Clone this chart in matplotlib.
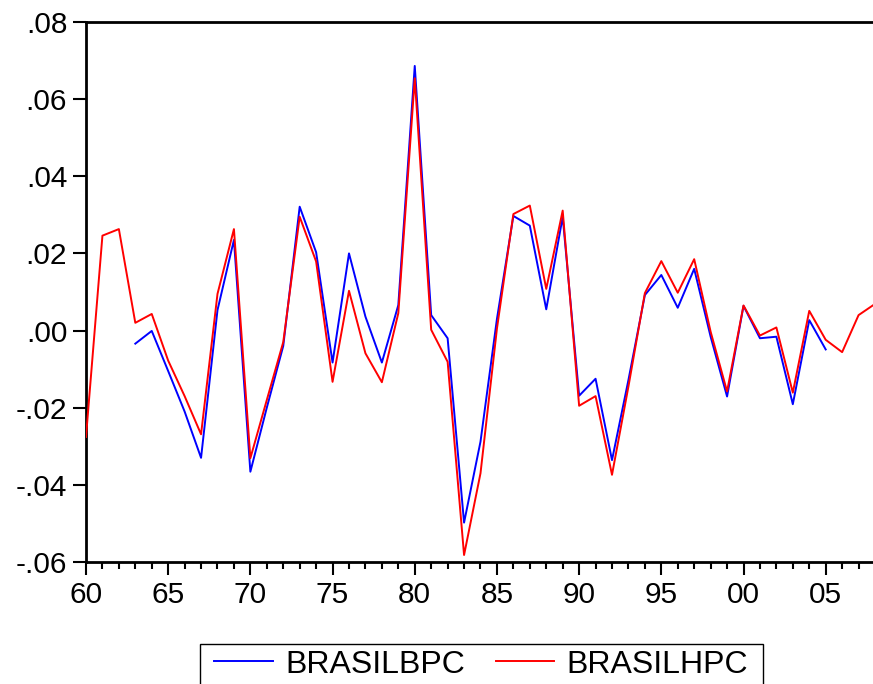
import matplotlib
matplotlib.use("Agg")
import matplotlib.pyplot as plt
from matplotlib.patches import Rectangle
from matplotlib.ticker import MultipleLocator, FuncFormatter

plt.rcParams["font.family"] = ["Liberation Sans", "DejaVu Sans"]

# yearly series, 1960-2008 (HPC) and 1963-2005 (BPC)
years_hpc = list(range(1960, 2009))
brasil_hpc = [
    -0.0276, 0.0246, 0.0263, 0.0020, 0.0043, -0.0078, -0.0170, -0.0269, 0.0095, 0.0263,
    -0.0331, -0.0180, -0.0030, 0.0295, 0.0179, -0.0133, 0.0103, -0.0059, -0.0134, 0.0045,
    0.0654, 0.0002, -0.0081, -0.0582, -0.0370, 0.0005, 0.0302, 0.0324, 0.0108, 0.0311,
    -0.0195, -0.0170, -0.0374, -0.0145, 0.0097, 0.0180, 0.0098, 0.0185, -0.0003, -0.0158,
    0.0065, -0.0013, 0.0008, -0.0161, 0.0051, -0.0024, -0.0056, 0.0040, 0.0069,
]

years_bpc = list(range(1963, 2006))
brasil_bpc = [
    -0.0034, -0.0001, -0.0105, -0.0210, -0.0330, 0.0053, 0.0235,
    -0.0366, -0.0200, -0.0040, 0.0321, 0.0203, -0.0083, 0.0200, 0.0036, -0.0083, 0.0066,
    0.0686, 0.0040, -0.0020, -0.0498, -0.0288, 0.0030, 0.0297, 0.0272, 0.0055, 0.0295,
    -0.0169, -0.0125, -0.0336, -0.0128, 0.0092, 0.0144, 0.0059, 0.0160, -0.0016, -0.0171,
    0.0064, -0.0020, -0.0016, -0.0191, 0.0027, -0.0049,
]

fig = plt.figure(figsize=(8.73, 6.84), dpi=100)
ax = fig.add_axes([0.0985, 0.1784, 0.9038, 0.7895])

# lines sit above the spines so the first point is not hidden by the left axis
ax.plot(years_bpc, brasil_bpc, color="#0000ff", lw=1.4, label="BRASILBPC", zorder=3)
ax.plot(years_hpc, brasil_hpc, color="#ff0000", lw=1.4, label="BRASILHPC", zorder=3)

ax.set_xlim(1960, 2008)
ax.set_ylim(-0.06, 0.08)

ax.xaxis.set_major_locator(MultipleLocator(5))
ax.xaxis.set_minor_locator(MultipleLocator(1))
ax.yaxis.set_major_locator(MultipleLocator(0.02))
ax.xaxis.set_major_formatter(FuncFormatter(lambda v, p: f"{int(round(v)) % 100:02d}"))


def fmt_y(v, p):
    s = f"{v:.2f}"
    return s.replace("0.", ".", 1)


ax.yaxis.set_major_formatter(FuncFormatter(fmt_y))

ax.tick_params(axis="x", which="major", length=9, width=1.5, labelsize=21.5, pad=5)
ax.tick_params(axis="x", which="minor", length=5, width=1.5)
ax.tick_params(axis="y", which="major", length=9.5, width=1.5, labelsize=21.5, pad=4)

for side in ["left", "bottom", "top"]:
    ax.spines[side].set_linewidth(2)
ax.spines["right"].set_visible(False)

# legend entries without frame, boxed separately so the box can be wider
leg = fig.legend(loc="center", bbox_to_anchor=(0.5515, 0.0285), ncol=2,
                 fontsize=23, frameon=False,
                 handlelength=1.82, handletextpad=0.41, columnspacing=0.94,
                 borderpad=0.0, borderaxespad=0.0)
fig.patches.append(Rectangle((0.2291, -0.05), 0.6449, 0.1085, transform=fig.transFigure,
                             fill=False, edgecolor="black", lw=1.0))

fig.savefig("out.png", dpi=100)
